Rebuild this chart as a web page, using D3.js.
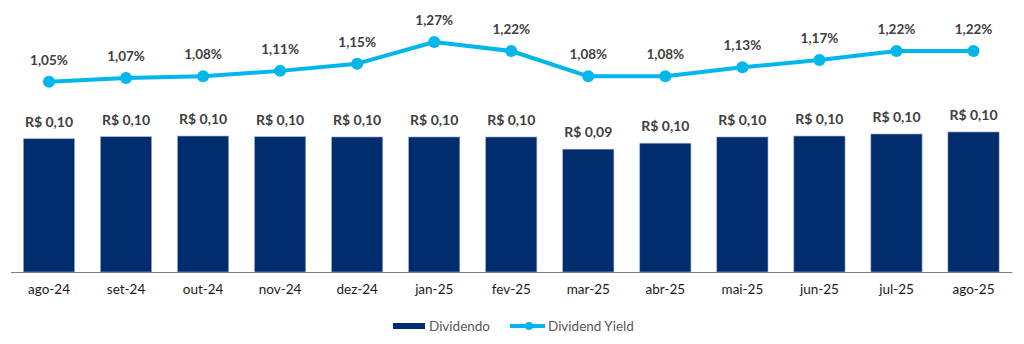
<!DOCTYPE html>
<html>
<head>
<meta charset="utf-8">
<script src="https://cdn.jsdelivr.net/npm/d3@7"></script>
<style>
  html, body { margin: 0; padding: 0; background: #fff; }
  svg { display: block; font-family: Lato, "Open Sans", sans-serif; }
</style>
</head>
<body>
<div id="chart-container"></div>
<script>
const months = ["ago-24", "set-24", "out-24", "nov-24", "dez-24", "jan-25", "fev-25",
  "mar-25", "abr-25", "mai-25", "jun-25", "jul-25", "ago-25"];
// dividendo por cota (R$)
const dividends = [0.0985, 0.1000, 0.1005, 0.1000, 0.0998, 0.0998, 0.0998,
  0.0908, 0.0952, 0.0998, 0.1005, 0.1020, 0.1035];
// dividend yield mensal (%)
const yields = [1.05, 1.07, 1.08, 1.11, 1.15, 1.27, 1.22, 1.08, 1.08, 1.13, 1.17, 1.22, 1.22];

const width = 1024, height = 344;
const baseY = 272;
const navy = "#012d6f", cyan = "#00b6eb", labelColor = "#404040";

const ptBR = d3.formatLocale({ decimal: ",", thousands: ".", grouping: [3], currency: ["R$ ", ""] });
const fmtMoney = ptBR.format("$.2f");
const fmtPct = v => ptBR.format(".2f")(v) + "%";

const svg = d3.select("#chart-container").append("svg")
  .attr("width", width).attr("height", height);

const x = d3.scaleBand().domain(months).range([10.5, 1012]).paddingInner(0.335).paddingOuter(0.167);
const yBar = d3.scaleLinear().domain([0, 0.1]).range([baseY, baseY - 135.3]);
const yLine = d3.scaleLinear().domain([1.05, 1.27]).range([81.7, 42]);

// bars
svg.append("g").selectAll("rect").data(dividends).enter().append("rect")
  .attr("x", (d, i) => x(months[i]))
  .attr("y", d => yBar(d))
  .attr("width", x.bandwidth())
  .attr("height", d => baseY - yBar(d))
  .attr("fill", navy)
  .attr("stroke", "#9fb2cc")
  .attr("stroke-width", 0.6);

svg.append("g").selectAll("text").data(dividends).enter().append("text")
  .attr("x", (d, i) => x(months[i]) + x.bandwidth() / 2)
  .attr("y", d => yBar(d) - 12)
  .attr("text-anchor", "middle")
  .attr("font-size", 14).attr("font-weight", "bold")
  .attr("fill", labelColor)
  .text(d => fmtMoney(d));

// category axis
const xAxis = d3.axisBottom(x).tickSize(0).tickPadding(12);
const axisG = svg.append("g").attr("transform", `translate(0,${baseY})`).call(xAxis);
axisG.select(".domain").attr("stroke", "#7f7f7f").attr("stroke-width", 1.2);
axisG.selectAll("text").attr("font-size", 13.5).attr("fill", "#1a1a1a")
  .attr("font-family", "Lato, 'Open Sans', sans-serif");

// dividend yield line
const cx = i => x(months[i]) + x.bandwidth() / 2;
const line = d3.line().x((d, i) => cx(i)).y(d => yLine(d));

svg.append("path").datum(yields)
  .attr("d", line).attr("fill", "none")
  .attr("stroke", cyan).attr("stroke-width", 4).attr("stroke-linejoin", "round");

svg.append("g").selectAll("circle").data(yields).enter().append("circle")
  .attr("cx", (d, i) => cx(i)).attr("cy", d => yLine(d)).attr("r", 6)
  .attr("fill", cyan);

svg.append("g").selectAll("text").data(yields).enter().append("text")
  .attr("x", (d, i) => cx(i))
  .attr("y", d => yLine(d) - 17)
  .attr("text-anchor", "middle")
  .attr("font-size", 13.5).attr("font-weight", "bold")
  .attr("fill", labelColor)
  .text(d => fmtPct(d));

// legend
const legend = svg.append("g").attr("transform", "translate(0,326)");
legend.append("rect").attr("x", 393).attr("y", -3).attr("width", 32).attr("height", 6).attr("fill", navy);
legend.append("text").attr("x", 429).attr("y", 4.5).attr("font-size", 13.5).attr("fill", "#595959").text("Dividendo");
legend.append("line").attr("x1", 510).attr("x2", 545).attr("y1", 0).attr("y2", 0)
  .attr("stroke", cyan).attr("stroke-width", 4);
legend.append("circle").attr("cx", 529).attr("cy", 0).attr("r", 4).attr("fill", cyan);
legend.append("text").attr("x", 548).attr("y", 4.5).attr("font-size", 13.5).attr("fill", "#595959").text("Dividend Yield");
</script>
</body>
</html>
